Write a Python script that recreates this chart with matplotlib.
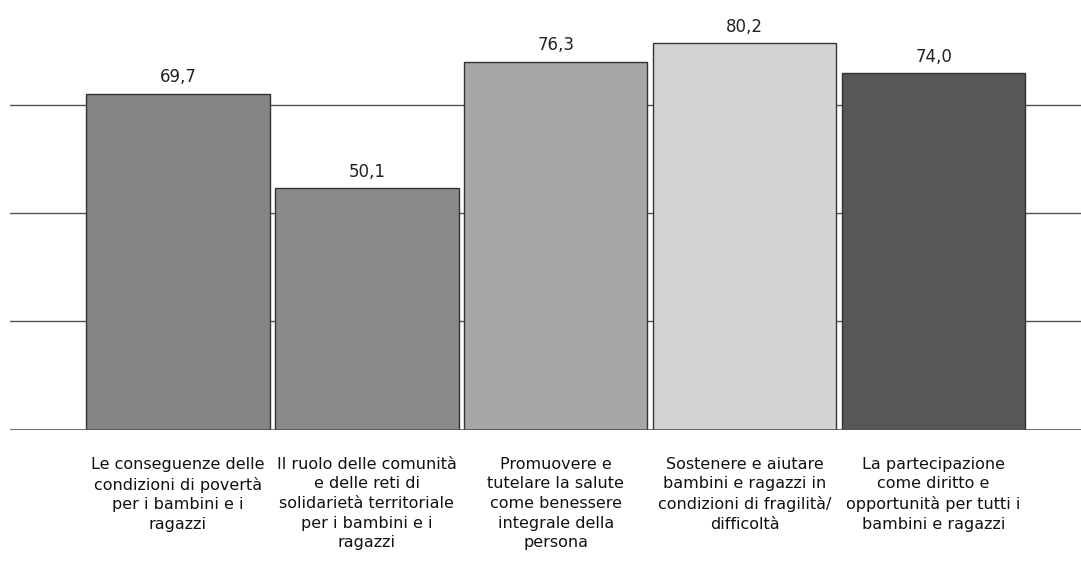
import matplotlib.pyplot as plt

categories = [
    "Le conseguenze delle\ncondizioni di povertà\nper i bambini e i\nragazzi",
    "Il ruolo delle comunità\ne delle reti di\nsolidarietà territoriale\nper i bambini e i\nragazzi",
    "Promuovere e\ntutelare la salute\ncome benessere\nintegrale della\npersona",
    "Sostenere e aiutare\nbambini e ragazzi in\ncondizioni di fragilità/\ndifficoltà",
    "La partecipazione\ncome diritto e\nopportunità per tutti i\nbambini e ragazzi",
]
values = [69.7, 50.1, 76.3, 80.2, 74.0]
labels = ["69,7", "50,1", "76,3", "80,2", "74,0"]
colors = ["#858585", "#8a8a8a", "#a6a6a6", "#d4d4d4", "#575757"]
grid_values = [22.5, 45, 67.5]

plt.rcParams['font.family'] = ['DejaVu Sans']

fig = plt.figure(figsize=(10.81, 5.62), dpi=100)
ax = fig.add_axes([0.0093, 0.235, 0.9907, 0.765])

x = range(len(values))
for g in grid_values:
    ax.axhline(g, color="#555555", linewidth=1.0, zorder=0)
ax.axhline(0, color="#555555", linewidth=1.2, zorder=3)

ax.bar(x, values, width=0.97, color=colors, edgecolor="#333333", linewidth=1.0, zorder=2)

for i, v in enumerate(values):
    ax.text(i, v + 1.6, labels[i], ha="center", va="bottom", fontsize=12,
            color="#222222")
    ax.text(i, -5.6, categories[i], ha="center", va="top", fontsize=11.5,
            color="#111111", linespacing=1.38)

ax.set_xlim(-0.889, 4.78)
ax.set_ylim(0, 89.2)
ax.axis("off")

fig.savefig("out.png", dpi=100)
